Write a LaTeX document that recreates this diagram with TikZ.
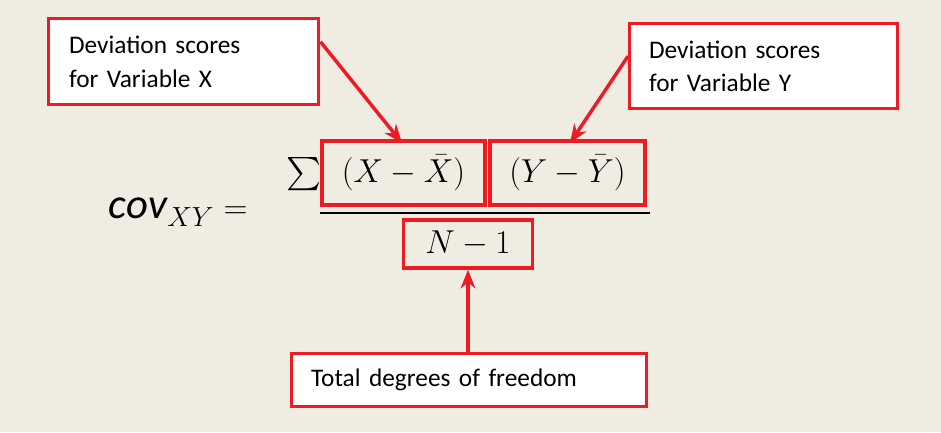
\documentclass[tikz,border=0pt]{standalone}
\usepackage{fontspec}
\setmainfont{Carlito}
\usepackage{amsmath}
\usetikzlibrary{arrows.meta}
\definecolor{boxred}{RGB}{237,28,36}
\definecolor{paper}{RGB}{239,236,226}
\tikzset{every picture/.style={line width=0.75pt}}
\tikzset{
  labelbox/.style={draw=boxred,line width=2.6pt,fill=white,anchor=north west,inner sep=0pt,align=left,font=\fontsize{19}{25}\selectfont},
  termbox/.style={draw=boxred,line width=2.6pt,inner sep=0pt},
  callout/.style={draw=boxred,line width=2.6pt,-{Stealth[length=14pt,width=11pt]}},
  bigmath/.style={font=\fontsize{32}{38}\selectfont,inner sep=0pt}
}
\begin{document}
\begin{tikzpicture}[x=0.75pt,y=0.75pt,yscale=-1,xscale=1]
\fill[paper] (0,0) rectangle (941,432);
\useasboundingbox (0,0) rectangle (941,432);

% Label boxes
\node[labelbox,minimum width=202.5pt,minimum height=64.5pt,text width=190pt] (labx) at (47,17) {\hspace*{9pt}Deviation scores\\\hspace*{9pt}for Variable X};
\node[labelbox,minimum width=201pt,minimum height=63.75pt,text width=190pt] (laby) at (628,22) {\hspace*{9pt}Deviation scores\\\hspace*{9pt}for Variable Y};
\node[labelbox,minimum width=266pt,minimum height=39.75pt,text width=255pt] (labn) at (290,352) {\hspace*{9pt}Total degrees of freedom};

% Formula
\node[bigmath,anchor=east] (cov) at (248,212) {$\mathit{cov}_{XY} =$};
\node[bigmath,anchor=east] (sum) at (322,174) {$\sum$};
\node[termbox,minimum width=122pt,minimum height=48pt] (tx) at (403.5,173) {\fontsize{32}{38}\selectfont$(X-\bar{X})$};
\node[termbox,minimum width=116pt,minimum height=48pt] (ty) at (567.5,173) {\fontsize{32}{38}\selectfont$(Y-\bar{Y})$};
\node[termbox,minimum width=97pt,minimum height=36pt] (nm) at (468,244) {\fontsize{32}{38}\selectfont$N-1$};
\coordinate (barl) at (320,213);
\coordinate (barr) at (650,213);
\draw[line width=1.2pt] (barl) -- (barr);

% Callouts
\draw[callout] (labx.east) ++(0,-20) coordinate (ax) -- (402,143);
\draw[callout] (laby.west) ++(0,-10) coordinate (ay) -- (570,143);
\draw[callout] (labn.north -| nm.south) -- (nm.south);
\end{tikzpicture}
\end{document}
